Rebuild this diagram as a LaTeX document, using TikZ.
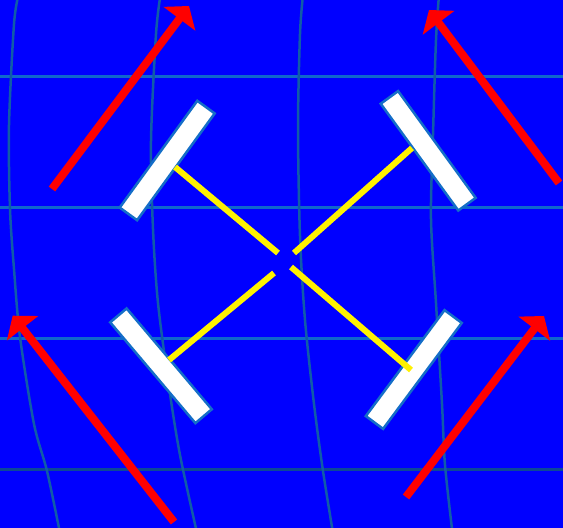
\documentclass[tikz,border=0pt]{standalone}
\usetikzlibrary{arrows.meta}
\definecolor{bg}{RGB}{0,0,255}
\definecolor{hgrid}{RGB}{16,104,204}
\definecolor{hgriddark}{RGB}{12,72,150}
\definecolor{vgrid}{RGB}{16,92,168}
\definecolor{rectedge}{RGB}{20,110,200}
\begin{document}
\begin{tikzpicture}[x=1pt,y=-1pt,
  hline/.style={hgrid,line width=3pt},
  vline/.style={vgrid,line width=2.5pt},
  mirror/.style={draw=rectedge,fill=white,line width=2.5pt,minimum width=132pt,minimum height=21.5pt,inner sep=0pt},
  beam/.style={yellow,line width=6pt},
  flow/.style={red,line width=8pt,-{Triangle[length=16pt,width=39pt]}}]
\fill[bg] (0,0) rectangle (563,528);
\useasboundingbox (0,0) rectangle (563,528);
\begin{scope}
\clip (0,0) rectangle (563,528);
\draw[hline] (-5,76.8) -- (568,76.8);
\draw[hline] (-5,207.7) -- (568,207.7);
\draw[hline] (-5,338.4) -- (568,338.4);
\draw[hline,hgriddark] (-5,469) -- (568,469);
\draw[vline] plot[smooth] coordinates {(18.5,-5) (14,24) (9,125) (10,209) (14,269) (20,337) (34,424) (47,471) (60,533)};
\draw[vline] plot[smooth] coordinates {(160.5,-5) (156,34) (151,141) (153,229) (158,303) (169,387) (180,455) (197,533)};
\draw[vline] plot[smooth] coordinates {(303,-5) (300,34) (298,128) (300,236) (305,320) (314,404) (323,471) (333,533)};
\draw[vline] plot[smooth] coordinates {(439,-5) (436,40) (433,135) (431,219) (436,303) (442,404) (445,465) (452.5,533)};
\end{scope}
% red arrows
\coordinate (t1) at (52,189);  \coordinate (h1) at (189,6);
\coordinate (t2) at (559,183); \coordinate (h2) at (429,10);
\coordinate (t3) at (174,522); \coordinate (h3) at (12.7,315.7);
\coordinate (t4) at (406,497); \coordinate (h4) at (544,316);
\draw[flow] (t1) -- (h1);
\draw[flow] (t2) -- (h2);
\draw[flow] (t3) -- (h3);
\draw[flow] (t4) -- (h4);
% mirrors
\node[mirror,rotate=54] (mtl) at (167.2,160.5) {};
\node[mirror,rotate=-54] (mtr) at (428.2,150.8) {};
\node[mirror,rotate=-49.8] (mbl) at (161,365.8) {};
\node[mirror,rotate=53.4] (mbr) at (413.8,369.5) {};
% beams
\coordinate (ya1) at (175,167); \coordinate (ya2) at (278,253);
\coordinate (yb1) at (412,148); \coordinate (yb2) at (294,253);
\coordinate (yc1) at (274,273); \coordinate (yc2) at (169,360);
\coordinate (yd1) at (291,267); \coordinate (yd2) at (411,370);
\draw[beam] (ya1) -- (ya2);
\draw[beam] (yb1) -- (yb2);
\draw[beam] (yc1) -- (yc2);
\draw[beam] (yd1) -- (yd2);
\end{tikzpicture}
\end{document}
